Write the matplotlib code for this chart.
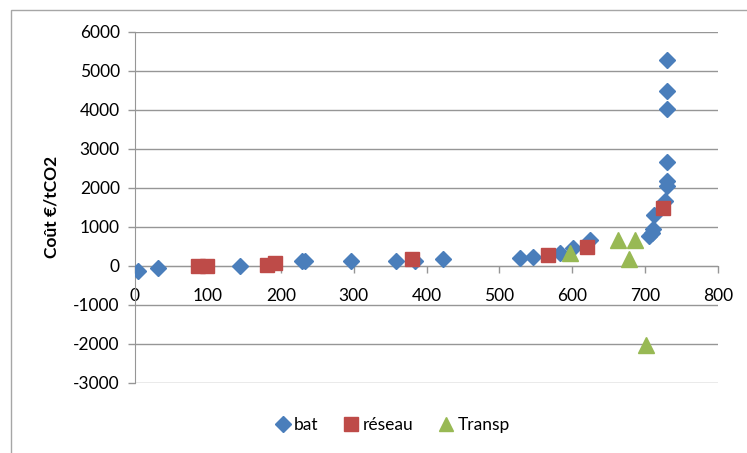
# Cost per tonne of CO2 avoided, by cumulative abatement, three sectors
import matplotlib.pyplot as plt
from matplotlib.patches import Rectangle

plt.rcParams['font.family'] = ['Lato', 'DejaVu Sans']
plt.rcParams['axes.unicode_minus'] = False

# bat (buildings)
bat_x = [4, 32, 144, 229, 233, 296, 358, 384, 422, 528, 546, 583, 601, 624,
         706, 709, 711, 712, 727, 730, 730, 730, 730, 730, 730]
bat_y = [-130, -50, 0, 110, 130, 130, 130, 130, 180, 200, 230, 330, 460, 650,
         750, 850, 950, 1300, 1650, 2050, 2180, 2650, 4030, 4490, 5280]

# réseau (network)
reseau_x = [86, 99, 181, 192, 380, 567, 620, 724]
reseau_y = [-20, -20, 20, 80, 180, 280, 490, 1490]

# Transp (transport)
transp_x = [597, 663, 678, 686, 701]
transp_y = [330, 670, 180, 670, -2030]

yticks = list(range(-3000, 6001, 1000))
xticks = list(range(0, 801, 100))

W, H = 747, 453
fig = plt.figure(figsize=(W / 100, H / 100), dpi=100)
ax = fig.add_axes([135 / W, 1 - 382.7 / H, (718 - 135) / W, (382.7 - 31.7) / H])

ax.plot(bat_x, bat_y, 'D', color='#4A7EBB', markersize=8.5, mec='#4A7EBB', label='bat', zorder=3)
ax.plot(reseau_x, reseau_y, 's', color='#BE4B48', markersize=10.5, mec='#BE4B48', label='réseau', zorder=4)
ax.plot(transp_x, transp_y, '^', color='#98B954', markersize=11, mec='#98B954', label='Transp', zorder=5)

ax.set_xlim(0, 800)
ax.set_ylim(-3000, 6000)
ax.set_xticks(xticks)
ax.set_yticks(yticks)

ax.grid(axis='y', color='#969696', linewidth=1)
ax.set_axisbelow(True)
for s in ['top', 'right']:
    ax.spines[s].set_visible(False)
ax.spines['bottom'].set_position(('data', 0))
ax.spines['bottom'].set_color('#969696')
ax.spines['left'].set_color('#969696')
ax.tick_params(axis='both', colors='#969696', labelcolor='black', labelsize=12.5, length=5, width=1)
ax.tick_params(axis='x', direction='out', pad=11)
ax.tick_params(axis='y', pad=6)

ax.set_ylabel('Coût €/tCO2', fontsize=12.5, fontweight='bold', labelpad=10)

ax.legend(loc='center', bbox_to_anchor=(392 / W, 1 - 425 / H), bbox_transform=fig.transFigure,
          ncol=3, frameon=False, fontsize=12.5, handletextpad=0.15, columnspacing=1.4,
          handlelength=1.0, markerscale=0.95)

# chart area border
fig.patches.append(Rectangle((11 / W, -0.5), 2, (H - 10) / H + 0.5, transform=fig.transFigure,
                             fill=False, edgecolor='#A6A6A6', linewidth=1))

fig.savefig('out.png', dpi=100)
